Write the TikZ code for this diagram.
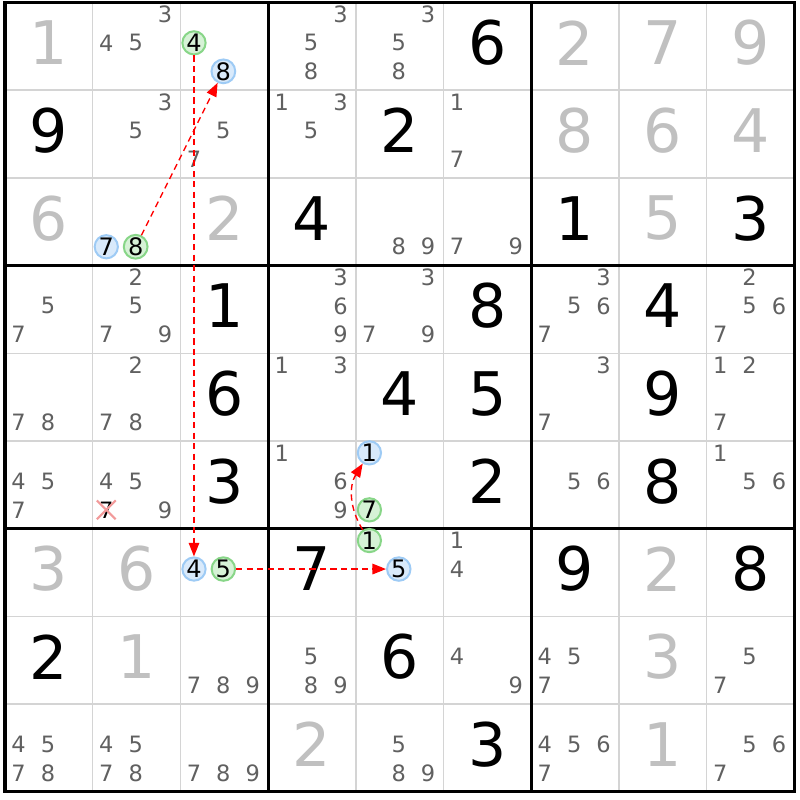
\documentclass[tikz,border=0pt]{standalone}
\usepackage{fontspec}
\setmainfont{DejaVu Sans}
\usetikzlibrary{arrows.meta,shapes.misc}
\definecolor{gridgray}{HTML}{D4D4D4}
\definecolor{solvedgray}{HTML}{C0C0C0}
\definecolor{candgray}{HTML}{606060}
\definecolor{ringblue}{HTML}{9ECBF5}
\definecolor{fillblue}{HTML}{D9EAFB}
\definecolor{ringgreen}{HTML}{88D688}
\definecolor{fillgreen}{HTML}{D6F2D6}
\definecolor{crossred}{HTML}{F29A9A}
\tikzset{
  given/.style={font=\fontsize{19.5}{19.5}\selectfont, text=black, inner sep=0pt},
  solved/.style={given, text=solvedgray},
  cand/.style={font=\fontsize{7.3}{7.3}\selectfont, text=candgray, inner sep=0pt},
  onblue/.style={cand, font=\fontsize{7.8}{7.8}\selectfont, text=black, circle, draw=ringblue, fill=fillblue, line width=0.65pt, minimum size=0.255cm},
  ongreen/.style={onblue, draw=ringgreen, fill=fillgreen},
  struck/.style={cand, text=black, cross out, draw=crossred, line width=0.7pt, minimum size=0.19cm},
  link/.style={red, line width=0.45pt, dash pattern=on 2pt off 1.4pt, -{Triangle[length=4.4pt,width=3.4pt]}}
}
\begin{document}
\begin{tikzpicture}
  \fill[white] (-0.057,0.0285) rectangle (9.065,-9.0935);
  \useasboundingbox (-0.057,0.0285) rectangle (9.065,-9.0935);
  % grid
  \foreach \i in {1,2,4,5,7,8} {
    \draw[gridgray, line width=0.5pt] (\i,0) -- (\i,-9);
    \draw[gridgray, line width=0.5pt] (0,-\i) -- (9,-\i);
  }
  \foreach \i in {0,3,6,9} {
    \draw[black, line width=1pt] (\i,0.015) -- (\i,-9.015);
    \draw[black, line width=1pt] (-0.015,-\i) -- (9.015,-\i);
  }
  % given and solved digits
  \foreach \r/\c/\d in {1/6/6, 2/1/9, 2/5/2, 3/4/4, 3/7/1, 3/9/3, 4/3/1, 4/6/8, 4/8/4,
      5/3/6, 5/5/4, 5/6/5, 5/8/9, 6/3/3, 6/6/2, 6/8/8, 7/4/7, 7/7/9, 7/9/8, 8/1/2, 8/5/6, 9/6/3}
    \node[given] (g\r\c) at (\c-0.5,-\r+0.54) {\d};
  \foreach \r/\c/\d in {1/1/1, 1/7/2, 1/8/7, 1/9/9, 2/7/8, 2/8/6, 2/9/4, 3/1/6, 3/3/2, 3/8/5,
      7/1/3, 7/2/6, 7/8/2, 8/2/1, 8/8/3, 9/4/2, 9/8/1}
    \node[solved] (g\r\c) at (\c-0.5,-\r+0.54) {\d};
  % candidates
  \foreach \r/\c/\ds in {1/2/{3,4,5}, 1/4/{3,5,8}, 1/5/{3,5,8}, 2/2/{3,5}, 2/3/{5,7}, 2/4/{1,3,5},
      2/6/{1,7}, 3/5/{8,9}, 3/6/{7,9}, 4/1/{5,7}, 4/2/{2,5,7,9}, 4/4/{3,6,9}, 4/5/{3,7,9},
      4/7/{3,5,6,7}, 4/9/{2,5,6,7}, 5/1/{7,8}, 5/2/{2,7,8}, 5/4/{1,3}, 5/7/{3,7}, 5/9/{1,2,7},
      6/1/{4,5,7}, 6/2/{4,5,9}, 6/4/{1,6,9}, 6/7/{5,6}, 6/9/{1,5,6}, 7/6/{1,4}, 8/3/{7,8,9},
      8/4/{5,8,9}, 8/6/{4,9}, 8/7/{4,5,7}, 8/9/{5,7}, 9/1/{4,5,7,8}, 9/2/{4,5,7,8}, 9/3/{7,8,9},
      9/5/{5,8,9}, 9/7/{4,5,6,7}, 9/9/{5,6,7}}
    \foreach \d in \ds {
      \pgfmathsetmacro{\px}{\c-1+0.49+(mod(\d-1,3)-1)*0.335}
      \pgfmathsetmacro{\py}{-\r+1-0.46-(div(\d-1,3)-1)*0.325}
      \node[cand] (p\r\c\d) at (\px,\py) {\d};
    }
  % chain candidates
  \foreach \r/\c/\d/\s in {1/3/4/ongreen, 1/3/8/onblue, 3/2/7/onblue, 3/2/8/ongreen,
      6/5/1/onblue, 6/5/7/ongreen, 7/3/4/onblue, 7/3/5/ongreen, 7/5/1/ongreen, 7/5/5/onblue,
      6/2/7/struck} {
    \pgfmathsetmacro{\px}{\c-1+0.49+(mod(\d-1,3)-1)*0.335}
    \pgfmathsetmacro{\py}{-\r+1-0.46-(div(\d-1,3)-1)*0.325}
    \node[\s] (p\r\c\d) at (\px,\py) {\d};
  }
  % links
  \draw[link] (p328) -- (p138);
  \draw[link] (p134) -- (p734);
  \draw[link] (p735) -- (p755);
  \draw[link] (p751) to[bend left=32] (p651);
\end{tikzpicture}
\end{document}
